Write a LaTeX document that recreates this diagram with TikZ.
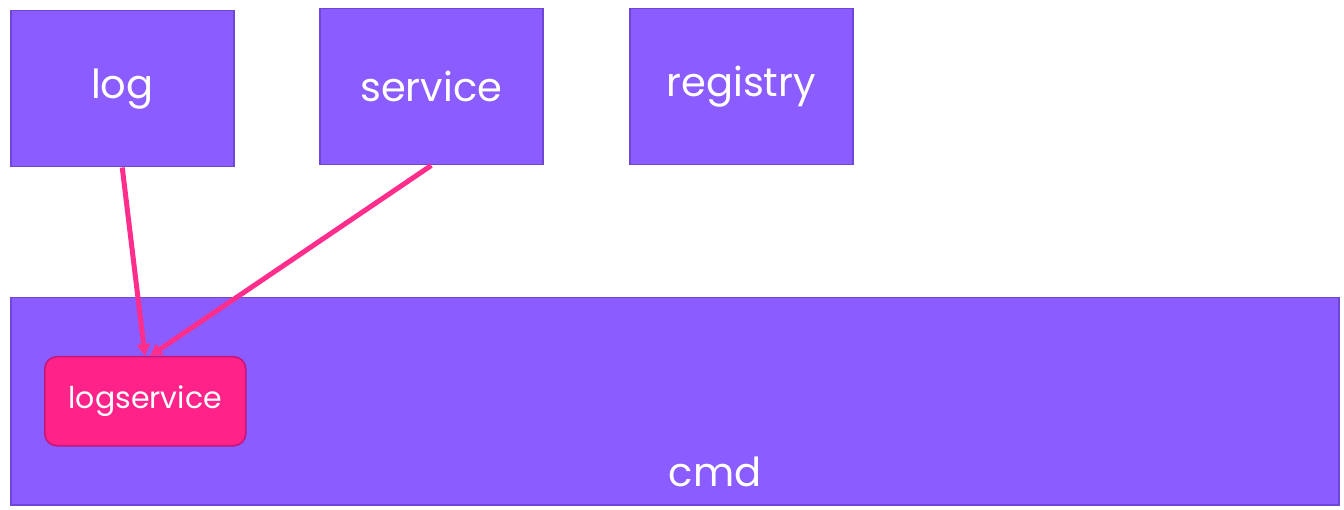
\documentclass[tikz,border=0pt]{standalone}
\usepackage{fontspec}
\setmainfont{Poppins}
\usetikzlibrary{arrows.meta}
\definecolor{boxfill}{HTML}{8B5CFF}
\definecolor{boxline}{HTML}{6F47D6}
\definecolor{hotpink}{HTML}{FF2288}
\definecolor{pinkline}{HTML}{C4157A}
\definecolor{linkpink}{HTML}{FF2D8C}
\begin{document}
\begin{tikzpicture}[x=1pt,y=-1pt,
  pkg/.style={draw=boxline,line width=1.5pt,fill=boxfill,text=white,
    font=\fontsize{40}{46}\selectfont,inner sep=0pt,anchor=north west},
  sub/.style={draw=pinkline,line width=1.5pt,fill=hotpink,text=white,
    rounded corners=12pt,font=\fontsize{30}{34}\selectfont,inner sep=0pt,
    anchor=north west,minimum width=201pt,minimum height=89pt},
  dep/.style={draw=linkpink,line width=5pt,
    -{Triangle[length=12pt,width=13pt]}}]
\useasboundingbox[fill=white] (0,0) rectangle (1344,510);
% top-level packages
\node[pkg,minimum width=223pt,minimum height=156pt] (log) at (10,10) {log};
\node[pkg,minimum width=223pt,minimum height=156pt] (service) at (319,8) {service};
\node[pkg,minimum width=223pt,minimum height=156pt] (registry) at (629,8) {registry};
% cmd package with its inner logservice
\node[pkg,minimum width=1328pt,minimum height=207pt] (cmd) at (10,297) {};
\node[text=white,font=\fontsize{40}{46}\selectfont] (cmdlabel) at (715,472) {cmd};
\node[sub] (logservice) at (44,356) {logservice};
% dependencies
\coordinate (t1) at (145,356);
\coordinate (t2) at (150,356);
\draw[dep] (log.south) -- (t1);
\draw[dep] (service.south) -- (t2);
\end{tikzpicture}
\end{document}
